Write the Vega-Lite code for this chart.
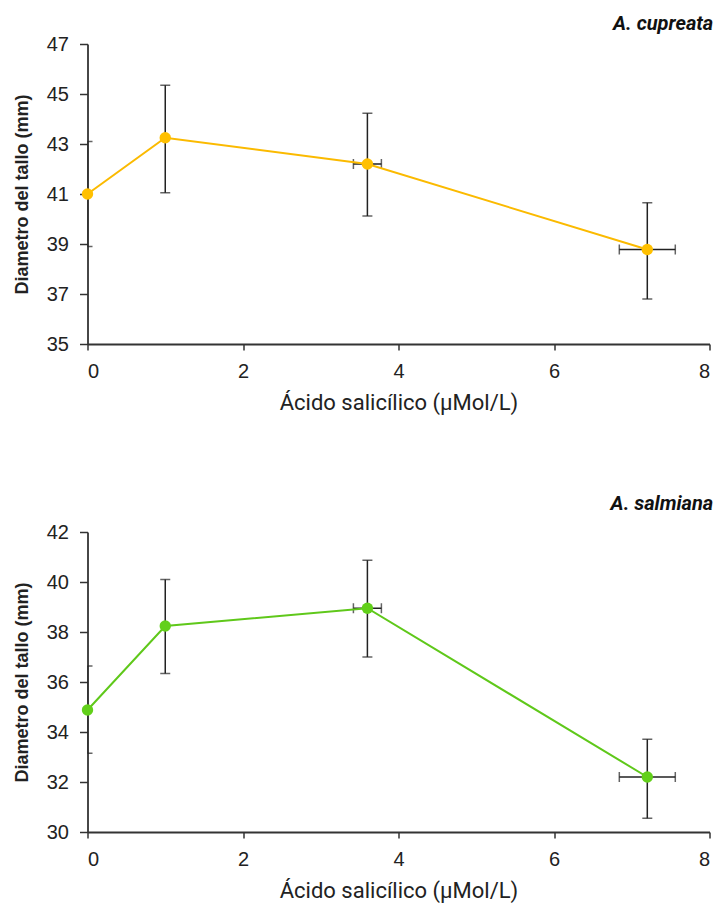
{
  "$schema": "https://vega.github.io/schema/vega-lite/v6.json",
  "padding": {"left": 12.5, "top": 14, "right": 3, "bottom": 3},
  "background": "white",
  "config": {
    "view": {"stroke": null},
    "font": "Liberation Sans",
    "axis": {"grid": false, "domainColor": "#333", "domainWidth": 1.8, "tickColor": "#333", "tickWidth": 1.5, "labelFont": "Liberation Sans", "labelFontSize": 20, "labelColor": "#222", "titleColor": "#222"},
    "axisX": {"tickSize": 6, "labelPadding": 11, "titleFont": "Roboto", "titleFontSize": 22, "titleFontWeight": "normal", "titlePadding": 11, "format": "d"},
    "axisY": {"tickSize": 8, "labelPadding": 11, "titleFont": "Liberation Sans", "titleFontSize": 18, "titleFontWeight": "bold", "titlePadding": 15},
    "title": {"anchor": "end", "fontStyle": "italic", "fontWeight": "bold", "fontSize": 20, "font": "Roboto", "color": "#111", "dx": 3}
  },
  "data": {"values": [
    {"species": "A. cupreata", "x": 0, "y": 41.0, "ylo": 38.9, "yhi": 43.1},
    {"species": "A. cupreata", "x": 1, "y": 43.25, "ylo": 41.05, "yhi": 45.35},
    {"species": "A. cupreata", "x": 3.6, "y": 42.2, "ylo": 40.12, "yhi": 44.23, "xlo": 3.42, "xhi": 3.78},
    {"species": "A. cupreata", "x": 7.2, "y": 38.78, "ylo": 36.8, "yhi": 40.65, "xlo": 6.84, "xhi": 7.56},
    {"species": "A. salmiana", "x": 0, "y": 34.88, "ylo": 33.15, "yhi": 36.64},
    {"species": "A. salmiana", "x": 1, "y": 38.24, "ylo": 36.34, "yhi": 40.1},
    {"species": "A. salmiana", "x": 3.6, "y": 38.95, "ylo": 37.0, "yhi": 40.87, "xlo": 3.42, "xhi": 3.78},
    {"species": "A. salmiana", "x": 7.2, "y": 32.2, "ylo": 30.55, "yhi": 33.71, "xlo": 6.84, "xhi": 7.56}
  ]},
  "spacing": 81,
  "vconcat": [
    {
      "title": {"text": "A. cupreata", "offset": 0},
      "width": 622, "height": 300,
      "transform": [{"filter": "datum.species === 'A. cupreata'"}],
      "layer": [
        {
          "mark": {"type": "errorbar", "clip": true, "color": "#222", "thickness": 1.5, "ticks": {"size": 10, "thickness": 1.5, "color": "#222"}},
          "encoding": {
            "x": {"field": "x", "type": "quantitative", "title": "Ácido salicílico (µMol/L)", "scale": {"domain": [0, 8], "nice": false, "zero": false}, "axis": {"values": [0, 2, 4, 6, 8]}},
            "y": {"field": "ylo", "type": "quantitative", "title": "Diametro  del tallo (mm)", "scale": {"domain": [35, 47], "nice": false, "zero": false}, "axis": {"values": [35, 37, 39, 41, 43, 45, 47]}},
            "y2": {"field": "yhi"}
          }
        },
        {
          "transform": [{"filter": "isValid(datum.xlo)"}],
          "mark": {"type": "errorbar", "color": "#222", "thickness": 1.5, "ticks": {"size": 10, "thickness": 1.5, "color": "#222"}},
          "encoding": {
            "x": {"field": "xlo", "type": "quantitative", "title": "Ácido salicílico (µMol/L)"},
            "x2": {"field": "xhi"},
            "y": {"field": "y", "type": "quantitative", "title": "Diametro  del tallo (mm)"}
          }
        },
        {
          "mark": {"type": "line", "color": "#FBBA00", "strokeWidth": 2},
          "encoding": {
            "x": {"field": "x", "type": "quantitative", "title": "Ácido salicílico (µMol/L)"},
            "y": {"field": "y", "type": "quantitative", "title": "Diametro  del tallo (mm)"}
          }
        },
        {
          "mark": {"type": "circle", "color": "#FFC000", "size": 130, "opacity": 1},
          "encoding": {
            "x": {"field": "x", "type": "quantitative", "title": "Ácido salicílico (µMol/L)"},
            "y": {"field": "y", "type": "quantitative", "title": "Diametro  del tallo (mm)"}
          }
        }
      ]
    },
    {
      "title": {"text": "A. salmiana", "offset": 8},
      "width": 622, "height": 300,
      "transform": [{"filter": "datum.species === 'A. salmiana'"}],
      "layer": [
        {
          "mark": {"type": "errorbar", "clip": true, "color": "#222", "thickness": 1.5, "ticks": {"size": 10, "thickness": 1.5, "color": "#222"}},
          "encoding": {
            "x": {"field": "x", "type": "quantitative", "title": "Ácido salicílico (µMol/L)", "scale": {"domain": [0, 8], "nice": false, "zero": false}, "axis": {"values": [0, 2, 4, 6, 8]}},
            "y": {"field": "ylo", "type": "quantitative", "title": "Diametro del tallo (mm)", "scale": {"domain": [30, 42], "nice": false, "zero": false}, "axis": {"values": [30, 32, 34, 36, 38, 40, 42]}},
            "y2": {"field": "yhi"}
          }
        },
        {
          "transform": [{"filter": "isValid(datum.xlo)"}],
          "mark": {"type": "errorbar", "color": "#222", "thickness": 1.5, "ticks": {"size": 10, "thickness": 1.5, "color": "#222"}},
          "encoding": {
            "x": {"field": "xlo", "type": "quantitative", "title": "Ácido salicílico (µMol/L)"},
            "x2": {"field": "xhi"},
            "y": {"field": "y", "type": "quantitative", "title": "Diametro del tallo (mm)"}
          }
        },
        {
          "mark": {"type": "line", "color": "#5FC81A", "strokeWidth": 2},
          "encoding": {
            "x": {"field": "x", "type": "quantitative", "title": "Ácido salicílico (µMol/L)"},
            "y": {"field": "y", "type": "quantitative", "title": "Diametro del tallo (mm)"}
          }
        },
        {
          "mark": {"type": "circle", "color": "#62D01A", "size": 130, "opacity": 1},
          "encoding": {
            "x": {"field": "x", "type": "quantitative", "title": "Ácido salicílico (µMol/L)"},
            "y": {"field": "y", "type": "quantitative", "title": "Diametro del tallo (mm)"}
          }
        }
      ]
    }
  ]
}
